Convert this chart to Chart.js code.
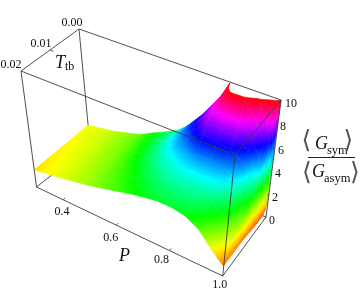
<!DOCTYPE html>
<html>
<head>
<meta charset="utf-8">
<script src="https://cdn.jsdelivr.net/npm/chart.js@4"></script>
<style>
  html, body { margin: 0; background: #fff; }
  canvas { display: block; }
</style>
</head>
<body>
<canvas id="vis-chart" width="360" height="295"></canvas>
<script>
// values
const pValues = [0.3, 0.4, 0.5, 0.55, 0.6, 0.65, 0.7, 0.75, 0.8, 0.85, 0.9, 0.95, 0.98, 0.99, 0.997, 1.0];
const tValues = [0, 0.0005, 0.001, 0.002, 0.003, 0.0045, 0.006, 0.0075, 0.01, 0.0125, 0.015, 0.0175, 0.02];
// one row per P, one column per T
const gValues = [
  [1.7, 1.7, 1.7, 1.7, 1.7, 1.65, 1.65, 1.6, 1.6, 1.55, 1.55, 1.5, 1.47],
  [2.07, 2.07, 2.07, 2.07, 2.05, 2.05, 2.0, 2.0, 1.97, 1.95, 1.9, 1.88, 1.87],
  [2.68, 2.68, 2.68, 2.68, 2.68, 2.65, 2.62, 2.58, 2.52, 2.46, 2.42, 2.37, 2.32],
  [3.24, 3.24, 3.24, 3.24, 3.22, 3.18, 3.12, 3.06, 2.97, 2.86, 2.78, 2.69, 2.6],
  [3.77, 3.77, 3.77, 3.8, 3.82, 3.8, 3.75, 3.65, 3.5, 3.3, 3.13, 3.0, 2.9],
  [4.38, 4.4, 4.42, 4.5, 4.58, 4.6, 4.55, 4.4, 4.18, 3.85, 3.6, 3.38, 3.2],
  [5.4, 5.42, 5.48, 5.6, 5.7, 5.65, 5.5, 5.3, 4.9, 4.4, 4.0, 3.7, 3.43],
  [6.8, 6.85, 6.9, 7.0, 7.0, 6.9, 6.5, 6.1, 5.35, 4.8, 4.35, 3.95, 3.63],
  [8.7, 8.7, 8.7, 8.7, 8.6, 8.2, 7.6, 7.0, 5.8, 5.0, 4.45, 4.0, 3.63],
  [11.3, 11.2, 11.0, 10.6, 10.0, 8.6, 7.6, 6.8, 5.8, 5.0, 4.4, 3.9, 3.43],
  [12.5, 12.3, 12.0, 11.0, 9.8, 8.3, 7.4, 6.6, 5.7, 4.9, 4.0, 3.35, 2.82],
  [14.0, 12.5, 11.2, 9.5, 8.3, 7.2, 6.5, 5.9, 5.0, 3.9, 3.2, 2.4, 1.69],
  [13.0, 11.0, 9.6, 8.0, 6.8, 5.9, 5.2, 4.3, 3.2, 2.8, 2.2, 1.6, 1.13],
  [12.0, 10.5, 9.0, 7.5, 6.5, 5.5, 4.5, 3.8, 3.0, 2.4, 1.8, 1.3, 0.95],
  [11.0, 8.0, 6.0, 4.2, 3.3, 1.8, 1.4, 1.25, 1.15, 1.1, 1.0, 0.9, 0.87],
  [10.0, 1.3, 0.8, 0.6, 0.6, 0.6, 0.65, 0.7, 0.8, 0.85, 0.85, 0.85, 0.85],
];
const pTicks = [0.4, 0.6, 0.8, 1.0];
const pTickLabels = ['0.4', '0.6', '0.8', '1.0'];
const tTicks = [0, 0.01, 0.02];
const tTickLabels = ['0.00', '0.01', '0.02'];
const zTicks = [0, 2, 4, 6, 8, 10];
const zTickLabels = ['0', '2', '4', '6', '8', '10'];

const pMin = 0.3, pMax = 1.0, tMax = 0.02, zMax = 10;

// screen position of the eight box corners: [T index][P index], bottom then top
const boxBottom = [[[90, 145], [266, 217]], [[36.5, 187], [222.7, 276]]];
const boxTop = [[[79, 29], [281, 100]], [[21, 71], [235, 155]]];

function project(p, t, z) {
  const u = (p - pMin) / (pMax - pMin), v = t / tMax, w = z / zMax;
  const at = (k) => {
    const lerp = (a, b, f) => a + (b - a) * f;
    const bot = lerp(lerp(boxBottom[0][0][k], boxBottom[0][1][k], u), lerp(boxBottom[1][0][k], boxBottom[1][1][k], u), v);
    const top = lerp(lerp(boxTop[0][0][k], boxTop[0][1][k], u), lerp(boxTop[1][0][k], boxTop[1][1][k], u), v);
    return lerp(bot, top, w);
  };
  return { x: at(0), y: at(1) };
}

const ctx = document.getElementById('vis-chart').getContext('2d');

// the plot range stops at zMax, anything above is cut away
function clipTop(corners) {
  const out = [];
  corners.forEach((c, i) => {
    const n = corners[(i + 1) % corners.length];
    if (c.z <= zMax) out.push(c);
    if ((c.z <= zMax) !== (n.z <= zMax)) {
      const f = (zMax - c.z) / (n.z - c.z);
      out.push({ p: c.p + (n.p - c.p) * f, t: c.t + (n.t - c.t) * f, z: zMax });
    }
  });
  return out;
}

const hue = (z) => `hsl(${Math.max(0, Math.min(10, z)) * 36}, 100%, 50%)`;

// colour runs with height (Hue[z/10]), shaded along the direction z changes on screen
function quadPaint(pts, zs) {
  const n = pts.length;
  const mx = pts.reduce((s, q) => s + q.x, 0) / n;
  const my = pts.reduce((s, q) => s + q.y, 0) / n;
  const mz = zs.reduce((s, z) => s + z, 0) / n;
  let xx = 0, xy = 0, yy = 0, xz = 0, yz = 0;
  pts.forEach((q, i) => {
    const dx = q.x - mx, dy = q.y - my, dz = zs[i] - mz;
    xx += dx * dx; xy += dx * dy; yy += dy * dy; xz += dx * dz; yz += dy * dz;
  });
  const det = xx * yy - xy * xy;
  if (Math.abs(det) < 1e-6) return hue(mz);
  const a = (xz * yy - yz * xy) / det, b = (yz * xx - xz * xy) / det;
  const g2 = a * a + b * b;
  if (g2 < 1e-8) return hue(mz);
  const s = pts.map((q) => a * (q.x - mx) + b * (q.y - my));
  const s0 = Math.min(...s), s1 = Math.max(...s);
  const grad = ctx.createLinearGradient(mx + a * s0 / g2, my + b * s0 / g2, mx + a * s1 / g2, my + b * s1 / g2);
  for (let i = 0; i <= 6; i++) grad.addColorStop(i / 6, hue(mz + s0 + (s1 - s0) * i / 6));
  return grad;
}

function surfaceDatasets() {
  const sets = [];
  for (let i = 0; i < pValues.length - 1; i++) {
    for (let j = 0; j < tValues.length - 1; j++) {
      const corners = [[i, j], [i + 1, j], [i + 1, j + 1], [i, j + 1]].map(([a, b]) => ({ p: pValues[a], t: tValues[b], z: gValues[a][b] }));
      const poly = clipTop(corners);
      if (poly.length < 3) continue;
      const pts = poly.map((c) => project(c.p, c.t, c.z));
      const paint = quadPaint(pts, poly.map((c) => c.z));
      sets.push({
        data: [...pts, pts[0]],
        showLine: true,
        fill: 'shape',
        backgroundColor: paint,
        borderColor: paint,
        borderWidth: 0.6,
        pointRadius: 0,
        tension: 0,
      });
    }
  }
  return sets;
}

function edge(a, b, width) {
  return {
    data: [project(...a), project(...b)],
    showLine: true,
    fill: false,
    borderColor: '#3c3c3c',
    borderWidth: width || 0.9,
    pointRadius: 0,
  };
}

const backEdges = [
  edge([pMin, 0, 0], [pMin, 0, zMax]),
  edge([pMin, 0, zMax], [pMax, 0, zMax]),
  edge([pMin, 0, 0], [pMin, tMax, 0]),
  edge([pMin, 0, 0], [pMax, 0, 0]),
];
const frontEdges = [
  edge([pMin, 0, zMax], [pMin, tMax, zMax]),
  edge([pMin, tMax, zMax], [pMax, tMax, zMax]),
  edge([pMax, 0, zMax], [pMax, tMax, zMax]),
  edge([pMin, tMax, zMax], [pMin, tMax, 0]),
  edge([pMax, tMax, zMax], [pMax, tMax, 0]),
  edge([pMax, 0, zMax], [pMax, 0, 0]),
  edge([pMin, tMax, 0], [pMax, tMax, 0]),
  edge([pMax, 0, 0], [pMax, tMax, 0]),
];
const tickEdges = [
  ...pTicks.slice(0, 3).map((p) => edge([p, tMax, 0], [p, tMax - 0.0008, 0], 0.8)),
  ...tTicks.slice(1, 2).map((t) => edge([pMin, t, zMax], [pMin + 0.012, t, zMax], 0.8)),
  ...zTicks.map((z) => edge([pMax, 0, z], [pMax, 0.0007, z], 0.8)),
];

// first dataset in the list is painted last
const datasets = [...backEdges, ...surfaceDatasets(), ...frontEdges, ...tickEdges].reverse();

// label offsets from their tick, px
const pLabelOffset = [[-1, 15], [-5.5, 16], [-8, 12], [-3, 12]];
const tLabelOffset = [[-7, -3], [-9, -3], [-10, -3]];
const zLabelOffset = [[6, 7], [6, 7], [6, 7], [6, 7], [5, 7], [10, 7]];

const SERIF = '"Liberation Serif", "Times New Roman", serif';

const textPlugin = {
  id: 'axisText',
  afterDraw(chart) {
    const c = chart.ctx;
    const put = (s, x, y, font, align, family) => {
      c.font = font + ' ' + (family || SERIF);
      c.textAlign = align || 'center';
      c.textBaseline = 'alphabetic';
      c.fillStyle = family ? '#555' : '#111';
      c.fillText(s, x, y);
    };
    c.save();
    const tick = '12px';
    pTicks.forEach((p, i) => {
      const q = project(p, tMax, 0);
      put(pTickLabels[i], q.x + pLabelOffset[i][0], q.y + pLabelOffset[i][1], tick);
    });
    tTicks.forEach((t, i) => {
      const q = project(pMin, t, zMax);
      put(tTickLabels[i], q.x + tLabelOffset[i][0], q.y + tLabelOffset[i][1], tick);
    });
    zTicks.forEach((z, i) => {
      const q = project(pMax, 0, z);
      put(zTickLabels[i], q.x + zLabelOffset[i][0], q.y + zLabelOffset[i][1], tick);
    });
    // axis names
    put('T', 55, 68, 'italic 18px', 'left');
    put('tb', 65, 70, '12px', 'left');
    put('P', 119, 261, 'italic 18px', 'left');
    // fraction
    const bracket = '25px';
    const bracketFont = '"DejaVu Sans"';
    put('\u27E8', 306.5, 147.5, bracket, 'center', bracketFont);
    put('G', 315, 149, 'italic 18px', 'left');
    put('sym', 327, 154, '12.5px', 'left');
    put('\u27E9', 348.5, 147.5, bracket, 'center', bracketFont);
    c.strokeStyle = '#222';
    c.lineWidth = 1;
    c.beginPath();
    c.moveTo(308, 157.5);
    c.lineTo(355, 157.5);
    c.stroke();
    put('\u27E8', 307, 180, bracket, 'center', bracketFont);
    put('G', 312, 177, 'italic 18px', 'left');
    put('asym', 324, 182, '12.5px', 'left');
    put('\u27E9', 355, 180, bracket, 'center', bracketFont);
    c.restore();
  },
};

new Chart(ctx, {
  type: 'scatter',
  data: { datasets },
  plugins: [textPlugin],
  options: {
    responsive: false,
    animation: false,
    events: [],
    layout: { padding: 0 },
    scales: {
      x: { type: 'linear', min: 0, max: 360, display: false },
      y: { type: 'linear', min: 0, max: 295, reverse: true, display: false },
    },
    plugins: {
      legend: { display: false },
      tooltip: { enabled: false },
      title: { display: false },
    },
  },
});
</script>
</body>
</html>
